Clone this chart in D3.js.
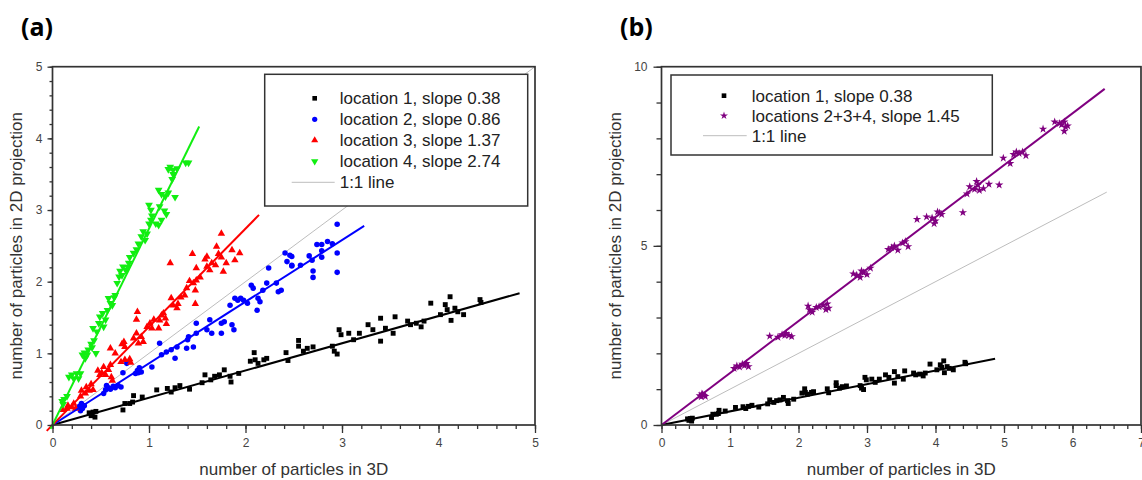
<!DOCTYPE html>
<html>
<head>
<meta charset="utf-8">
<script src="https://cdn.jsdelivr.net/npm/d3@7"></script>
<style>
  body { margin: 0; background: #fff; }
  svg { display: block; font-family: "Liberation Sans", Arial, sans-serif; }
</style>
</head>
<body>
<script>
// location 1 (same points in both panels)
const loc1 = [
  [0.40,0.13],[0.42,0.18],[0.44,0.11],[0.41,0.15],[0.45,0.19],[0.38,0.17],
  [0.73,0.21],[0.75,0.30],[0.80,0.30],[0.84,0.41],[0.93,0.39],[0.83,0.32],
  [1.08,0.49],[1.19,0.51],[1.23,0.46],[1.27,0.52],[1.32,0.55],[1.42,0.50],
  [1.55,0.59],[1.58,0.70],[1.64,0.63],[1.68,0.68],[1.73,0.70],[1.78,0.77],
  [1.84,0.68],[1.85,0.60],[1.93,0.72],[2.05,0.89],[2.09,1.01],[2.10,0.91],
  [2.13,0.86],[2.19,0.91],[2.22,0.93],[2.42,1.01],[2.44,0.90],[2.55,1.18],
  [2.55,1.10],[2.60,1.03],[2.64,1.07],[2.70,1.09],[2.90,1.10],[2.92,1.03],
  [2.95,0.99],[2.97,1.33],[2.99,1.26],[3.07,1.28],[3.12,1.19],[3.18,1.28],
  [3.27,1.40],[3.32,1.33],[3.40,1.17],[3.40,1.49],[3.45,1.35],[3.53,1.28],
  [3.55,1.51],[3.68,1.45],[3.71,1.40],[3.77,1.42],[3.82,1.37],[3.85,1.45],
  [3.92,1.70],[4.02,1.54],[4.07,1.68],[4.09,1.61],[4.12,1.79],[4.13,1.46],
  [4.17,1.63],[4.20,1.58],[4.26,1.54],[4.43,1.75],[4.44,1.71]
];
// location 2
const loc2 = [
  [0.28,0.26],[0.30,0.30],[0.31,0.23],[0.33,0.27],[0.29,0.20],
  [0.53,0.44],[0.55,0.49],[0.58,0.52],[0.60,0.50],[0.63,0.54],[0.65,0.52],
  [0.68,0.55],[0.71,0.53],[0.56,0.55],[0.73,0.73],[0.77,0.86],
  [0.86,0.72],[0.88,0.76],[0.90,0.80],[0.92,0.74],[0.89,0.73],[1.03,0.81],
  [1.11,1.14],[1.13,0.98],[1.18,1.02],[1.23,1.05],[1.27,0.93],[1.29,1.09],
  [1.39,1.07],[1.40,1.19],[1.46,1.09],[1.41,1.23],[1.49,1.42],[1.49,1.28],
  [1.60,1.33],[1.63,1.47],[1.65,1.28],[1.75,1.42],[1.78,1.44],[1.75,1.28],
  [1.86,1.40],[1.88,1.33],[1.84,1.67],[1.89,1.77],[1.92,1.74],[1.95,1.77],
  [1.98,1.74],[2.02,1.70],[2.06,1.95],[2.08,1.91],[2.12,1.60],[2.13,1.77],
  [2.15,1.72],[2.18,1.88],[2.22,1.98],[2.24,2.19],[2.32,1.98],[2.34,1.86],
  [2.37,1.88],[2.41,2.40],[2.43,2.28],[2.46,2.37],[2.48,2.23],[2.48,2.35],
  [2.48,2.22],[2.57,2.23],[2.66,2.36],[2.69,2.30],[2.70,2.15],[2.70,2.06],
  [2.74,2.52],[2.79,2.52],[2.79,2.43],[2.79,2.34],[2.85,2.56],[2.90,2.53],
  [2.95,2.80],[2.95,2.40],[2.95,2.13]
];
// location 3
const loc3 = [
  [0.11,0.21],[0.15,0.23],[0.16,0.27],[0.20,0.25],[0.22,0.30],[0.24,0.23],
  [0.29,0.40],[0.30,0.48],[0.34,0.44],[0.35,0.53],[0.38,0.48],[0.40,0.57],
  [0.42,0.49],[0.47,0.76],[0.49,0.70],[0.51,0.73],[0.53,0.81],[0.55,0.70],
  [0.58,0.77],[0.60,0.84],[0.61,0.67],[0.62,0.62],[0.60,1.07],[0.65,1.00],
  [0.71,0.88],[0.75,0.91],[0.80,0.92],[0.81,0.87],[0.72,1.13],[0.75,1.09],
  [0.74,1.16],[0.84,1.21],[0.87,1.28],[0.89,1.14],[0.92,1.23],[0.94,1.16],
  [0.88,1.58],[0.87,1.47],[0.98,1.37],[1.01,1.42],[1.03,1.35],[1.05,1.47],
  [1.10,1.35],[1.11,1.46],[1.13,1.53],[1.15,1.56],[1.17,1.49],[1.18,1.41],
  [1.23,1.77],[1.25,1.67],[1.29,1.63],[1.30,1.69],[1.33,1.78],[1.22,2.26],
  [1.37,1.81],[1.39,1.91],[1.42,2.01],[1.46,1.98],[1.48,1.88],[1.49,2.02],
  [1.53,2.06],[1.48,1.69],[1.45,2.39],[1.49,2.19],[1.58,2.31],[1.60,2.35],
  [1.63,2.16],[1.65,2.26],[1.69,2.23],[1.60,2.21],[1.70,2.49],[1.72,2.39],
  [1.75,2.34],[1.77,2.14],[1.80,2.26],[1.86,2.44],[1.89,2.30],[1.94,2.40],
  [1.75,2.67]
];
// location 4
const loc4 = [
  [0.10,0.33],[0.12,0.36],[0.15,0.40],[0.11,0.29],[0.17,0.67],[0.20,0.70],
  [0.22,0.65],[0.25,0.72],[0.27,0.65],[0.29,0.72],[0.31,0.98],[0.33,1.01],
  [0.34,0.93],[0.36,0.98],[0.37,1.05],[0.40,1.13],[0.41,1.08],[0.43,1.18],
  [0.45,1.00],[0.42,1.35],[0.46,1.30],[0.48,1.42],[0.49,1.51],[0.52,1.56],
  [0.53,1.37],[0.55,1.47],[0.57,1.60],[0.60,1.70],[0.58,1.77],[0.62,1.67],
  [0.64,1.78],[0.65,1.81],[0.67,1.98],[0.69,2.07],[0.70,2.15],[0.72,2.09],
  [0.73,2.21],[0.76,2.16],[0.78,2.20],[0.79,2.26],[0.80,2.34],[0.84,2.40],
  [0.87,2.45],[0.89,2.53],[0.92,2.63],[0.94,2.70],[0.96,2.58],[0.98,2.67],
  [1.00,2.81],[1.02,2.86],[1.03,2.92],[1.02,3.00],[1.07,2.81],[1.10,2.79],
  [1.13,2.86],[1.16,2.99],[1.18,2.94],[1.11,3.05],[1.00,3.07],[1.10,3.28],
  [1.13,3.22],[1.17,3.19],[1.20,3.24],[1.27,3.18],[1.24,3.43],[1.20,3.57],
  [1.25,3.56],[1.29,3.58],[1.25,3.50],[1.22,3.60],[1.38,3.66],[1.41,3.66]
];
// locations 2+3+4 (panel b)
const loc234 = [
  [0.56,0.82],[0.58,0.79],[0.60,0.85],[0.62,0.83],[0.59,0.87],[0.64,0.80],
  [1.06,1.58],[1.10,1.65],[1.14,1.62],[1.18,1.70],[1.21,1.66],[1.24,1.72],[1.27,1.63],
  [1.58,2.48],[1.70,2.45],[1.76,2.52],[1.82,2.56],[1.86,2.50],[1.90,2.47],[1.80,2.50],
  [2.14,3.32],[2.16,3.22],[2.20,3.15],[2.26,3.28],[2.30,3.30],[2.36,3.34],[2.42,3.38],
  [2.44,3.26],[2.40,3.22],
  [2.80,4.22],[2.85,4.18],[2.90,4.12],[2.95,4.25],[3.00,4.20],[3.05,4.38],[2.92,4.30],
  [3.31,4.90],[3.36,4.95],[3.40,5.00],[3.45,4.88],[3.52,5.08],[3.56,5.12],[3.60,4.98],
  [3.73,5.74],[3.87,5.81],[3.95,5.78],[3.98,5.62],[4.00,5.70],[4.03,5.95],[4.06,5.92],
  [4.09,5.88],
  [4.40,5.93],[4.46,6.45],[4.50,6.65],[4.57,6.58],[4.60,6.80],[4.62,6.70],[4.64,6.55],
  [4.70,6.60],[4.78,6.72],[4.93,6.70],
  [4.99,7.45],[5.09,7.30],[5.14,7.55],[5.18,7.62],[5.22,7.58],[5.27,7.62],[5.32,7.52],
  [5.57,8.26],[5.74,8.46],[5.81,8.42],[5.84,8.38],[5.88,8.46],[5.90,8.32],[5.88,8.20],
  [5.93,8.35]
];

const labelsA = ["location 1, slope 0.38", "location 2, slope 0.86", "location 3, slope 1.37", "location 4, slope 2.74"];
const slopesA = [0.38, 0.86, 1.37, 2.74];
const fitRangeA = [[0, 4.84], [0, 3.23], [-0.06, 2.14], [-0.02, 1.52]];
const labelsB = ["location 1, slope 0.38", "locations 2+3+4, slope 1.45"];
const slopesB = [0.38, 1.45];
const fitRangeB = [[0, 4.87], [0, 6.47]];
const oneToOneA = [0, 5];
const oneToOneB = [0, 6.5];
const xTicksA = [0, 1, 2, 3, 4, 5];
const yTicksA = [0, 1, 2, 3, 4, 5];
const xTicksB = [0, 1, 2, 3, 4, 5, 6, 7];
const yTicksB = [0, 5, 10];

const width = 1142, height = 480;
const svg = d3.select("body").append("svg")
  .attr("width", width)
  .attr("height", height);
svg.append("rect").attr("width", width).attr("height", height).attr("fill", "#fff");

const frameColor = "#333";

function drawPanel(p) {
  const x = d3.scaleLinear().domain(p.xDomain).range(p.xRange);
  const y = d3.scaleLinear().domain(p.yDomain).range(p.yRange);
  const g = svg.append("g");

  // 1:1 line
  g.append("line")
    .attr("x1", x(p.oneToOne[0])).attr("y1", y(p.oneToOne[0]))
    .attr("x2", x(p.oneToOne[1])).attr("y2", y(p.oneToOne[1]))
    .attr("stroke", "#bdbdbd").attr("stroke-width", 1);

  // points, then fitted lines
  p.series.forEach((s) => {
    g.append("g").selectAll("path").data(s.data).join("path")
      .attr("d", d3.symbol(s.symbol, s.size))
      .attr("transform", (d) => `translate(${x(d[0])},${y(d[1])})` + (s.flip ? " rotate(180)" : ""))
      .attr("fill", s.color);
  });
  p.series.forEach((s) => {
    g.append("line")
      .attr("x1", x(s.fit[0])).attr("y1", y(s.fit[0] * s.slope))
      .attr("x2", x(s.fit[1])).attr("y2", y(s.fit[1] * s.slope))
      .attr("stroke", s.color).attr("stroke-width", 2);
  });

  // legend
  const L = p.legend;
  g.append("rect")
    .attr("x", L.x).attr("y", L.y).attr("width", L.w).attr("height", L.h)
    .attr("fill", "#fff").attr("stroke", frameColor).attr("stroke-width", 1.5);
  p.series.forEach((s, i) => {
    const cy = L.y + L.row0 + i * L.step;
    g.append("path")
      .attr("d", d3.symbol(s.symbol, s.size * 0.9))
      .attr("transform", `translate(${L.x + L.sym},${cy})` + (s.flip ? " rotate(180)" : ""))
      .attr("fill", s.color);
    g.append("text")
      .attr("x", L.x + L.text).attr("y", cy).attr("dy", "0.36em")
      .attr("font-size", 17).attr("fill", "#222")
      .text(s.label);
  });
  const cy1 = L.y + L.row0 + p.series.length * L.step;
  g.append("line")
    .attr("x1", L.x + L.lineX0).attr("x2", L.x + L.text - 5)
    .attr("y1", cy1).attr("y2", cy1)
    .attr("stroke", "#bdbdbd").attr("stroke-width", 1);
  g.append("text")
    .attr("x", L.x + L.text).attr("y", cy1).attr("dy", "0.36em")
    .attr("font-size", 17).attr("fill", "#222")
    .text("1:1 line");

  // axes
  const x0 = p.xRange[0], x1 = p.xRange[1], y0 = p.yRange[0], y1 = p.yRange[1];
  g.append("g").attr("transform", `translate(0,${y0})`)
    .call(d3.axisBottom(x).tickValues(p.xMinor).tickSize(4).tickFormat(""))
    .call((a) => a.select(".domain").remove());
  g.append("g").attr("transform", `translate(${x0},0)`)
    .call(d3.axisLeft(y).tickValues(p.yMinor).tickSize(p.yMinorSize).tickFormat(""))
    .call((a) => a.select(".domain").remove());
  const ax = g.append("g").attr("transform", `translate(0,${y0})`)
    .call(d3.axisBottom(x).tickValues(p.xTicks).tickSize(8).tickPadding(5).tickFormat(d3.format("d")));
  const ay = g.append("g").attr("transform", `translate(${x0},0)`)
    .call(d3.axisLeft(y).tickValues(p.yTicks).tickSize(p.yMajorSize).tickPadding(p.yPad).tickFormat(d3.format("d")));
  [ax, ay].forEach((a) => {
    a.select(".domain").remove();
    a.selectAll("text").attr("font-size", 12).attr("fill", "#444")
      .attr("font-family", "Liberation Sans, Arial, sans-serif");
  });
  g.selectAll(".tick line").attr("stroke", frameColor).attr("stroke-width", 1.3);

  g.append("rect")
    .attr("x", x0).attr("y", y1).attr("width", x1 - x0).attr("height", y0 - y1)
    .attr("fill", "none").attr("stroke", frameColor).attr("stroke-width", 1.7);

  // titles
  g.append("text")
    .attr("x", (x0 + x1) / 2).attr("y", 475)
    .attr("text-anchor", "middle").attr("font-size", 17).attr("fill", "#333")
    .text("number of particles in 3D");
  g.append("text")
    .attr("transform", `translate(${p.yTitleX},${(y0 + y1) / 2}) rotate(-90)`)
    .attr("text-anchor", "middle").attr("font-size", 17).attr("fill", "#333")
    .text("number of particles in 2D projection");
  g.append("text")
    .attr("x", p.tagX).attr("y", 36)
    .attr("font-family", "'Open Sans', sans-serif").attr("font-weight", "bold")
    .attr("font-size", 25).attr("fill", "#000")
    .text(p.tag);
}

drawPanel({
  tag: "(a)", tagX: 21,
  xDomain: [0, 5], xRange: [52.5, 535],
  yDomain: [0, 5], yRange: [425, 66.7],
  xTicks: xTicksA, yTicks: yTicksA,
  xMinor: d3.range(0, 5.001, 0.2), yMinor: d3.range(0, 5.001, 0.2),
  yMajorSize: 5, yMinorSize: 3, yPad: 5,
  yTitleX: 22,
  oneToOne: oneToOneA,
  series: [
    { data: loc1, color: "#000", symbol: d3.symbolSquare, size: 24, slope: slopesA[0], fit: fitRangeA[0], label: labelsA[0] },
    { data: loc2, color: "#0000ff", symbol: d3.symbolCircle, size: 24, slope: slopesA[1], fit: fitRangeA[1], label: labelsA[1] },
    { data: loc3, color: "#ff0000", symbol: d3.symbolTriangle, size: 24, slope: slopesA[2], fit: fitRangeA[2], label: labelsA[2] },
    { data: loc4, color: "#11ee11", symbol: d3.symbolTriangle, size: 26, flip: true, slope: slopesA[3], fit: fitRangeA[3], label: labelsA[3] }
  ],
  legend: { x: 264.7, y: 74.3, w: 263, h: 131.7, row0: 24, step: 21, sym: 50, text: 75, lineX0: 27 }
});

drawPanel({
  tag: "(b)", tagX: 620,
  xDomain: [0, 7], xRange: [661.5, 1141],
  yDomain: [0, 10], yRange: [425, 66.7],
  xTicks: xTicksB, yTicks: yTicksB,
  xMinor: d3.range(0, 7.001, 0.2), yMinor: d3.range(0, 10.001, 1),
  yMajorSize: 8, yMinorSize: 5, yPad: 6,
  yTitleX: 621,
  oneToOne: oneToOneB,
  series: [
    { data: loc1, color: "#000", symbol: d3.symbolSquare, size: 24, slope: slopesB[0], fit: fitRangeB[0], label: labelsB[0] },
    { data: loc234, color: "#800080", symbol: d3.symbolStar, size: 22, slope: slopesB[1], fit: fitRangeB[1], label: labelsB[1] }
  ],
  legend: { x: 671, y: 75, w: 321.3, h: 80, row0: 20.7, step: 20, sym: 53, text: 80.7, lineX0: 32 }
});
</script>
</body>
</html>
